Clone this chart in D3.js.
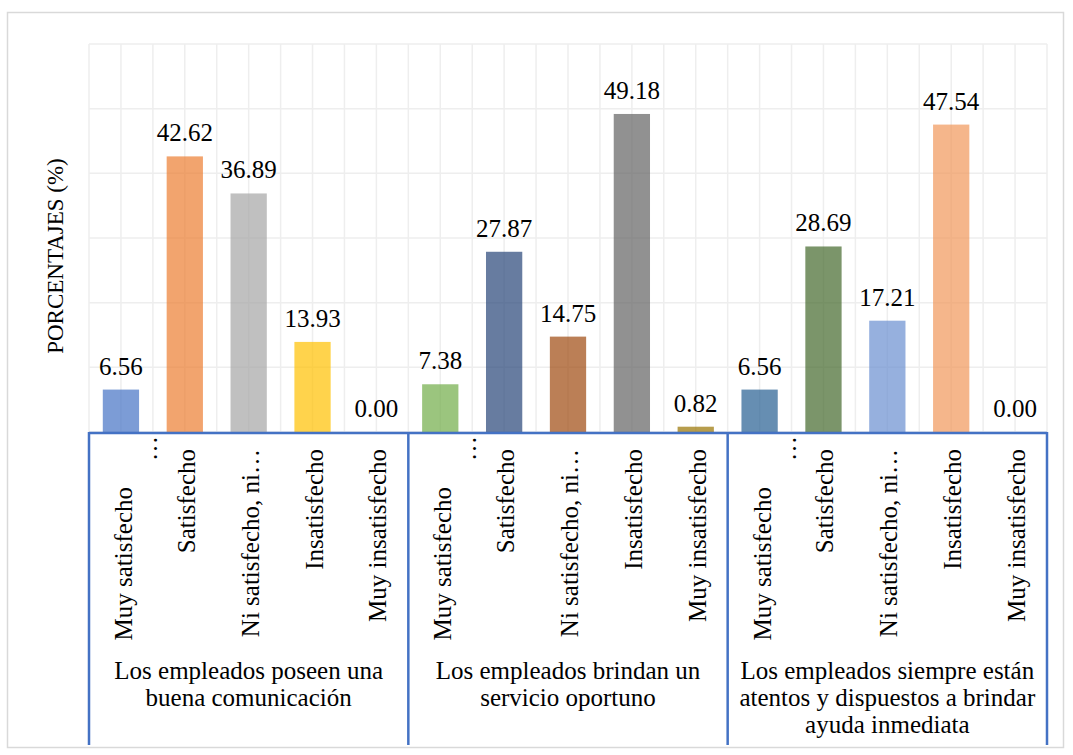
<!DOCTYPE html>
<html>
<head>
<meta charset="utf-8">
<script src="https://cdn.jsdelivr.net/npm/d3@7"></script>
<style>
  html, body { margin: 0; padding: 0; background: #fff; }
  svg { display: block; }
</style>
</head>
<body>
<svg id="chart" width="1073" height="755"></svg>
<script>
// ---- Data ----
const groups = [
  ["Los empleados poseen una", "buena comunicación"],
  ["Los empleados brindan un", "servicio oportuno"],
  ["Los empleados siempre están", "atentos y dispuestos a brindar", "ayuda inmediata"]
];
const categories = ["Muy satisfecho", "Satisfecho", "Ni satisfecho, ni…", "Insatisfecho", "Muy insatisfecho"];
const valuesGroup1 = [6.56, 42.62, 36.89, 13.93, 0.00];
const valuesGroup2 = [7.38, 27.87, 14.75, 49.18, 0.82];
const valuesGroup3 = [6.56, 28.69, 17.21, 47.54, 0.00];
const yTicks = [0, 10, 20, 30, 40, 50, 60];
const yTitle = "PORCENTAJES (%)";

// colours (style, not data)
const palette = [
  ["#4472C4", "#ED7D31", "#A5A5A5", "#FFC000", "#5B9BD5"],
  ["#70AD47", "#264478", "#9E480E", "#636363", "#997300"],
  ["#255E91", "#43682B", "#698ED0", "#F1975A", "#B7B7B7"]
];

const allValues = [valuesGroup1, valuesGroup2, valuesGroup3];
const rows = [];
allValues.forEach((vals, g) => vals.forEach((v, i) => rows.push({ key: g + "-" + i, g, i, cat: categories[i], v })));

(function () {
  const FONT = '"Liberation Serif"';
  const svg = d3.select("#chart");
  const pLeft = 89, pRight = 1047, pTop = 44, pBottom = 432;
  const x = d3.scaleBand().domain(rows.map(d => d.key)).range([pLeft, pRight]).paddingInner(0.432).paddingOuter(0.216);
  const y = d3.scaleLinear().domain([0, 60]).range([pBottom, pTop]);
  const step = x.step();
  const styleText = sel => sel.style("font-family", FONT).style("font-size", "25px").style("fill", "#000");

  // outer border
  svg.append("rect").attr("x", 7.5).attr("y", 12.5).attr("width", 1056).attr("height", 735)
    .attr("fill", "none").attr("stroke", "#d9d9d9").attr("stroke-width", 1.5);

  // gridlines
  const grid = svg.append("g");
  grid.selectAll("line.h").data(yTicks).join("line").attr("class", "h")
    .attr("x1", pLeft).attr("x2", pRight).attr("y1", d => y(d)).attr("y2", d => y(d))
    .attr("stroke", "#eeeeee").attr("stroke-width", 1.5);
  const vLines = d3.range(0, rows.length * 2 + 1).map(k => pLeft + k * step / 2);
  grid.selectAll("line.v").data(vLines).join("line").attr("class", "v")
    .attr("x1", d => d).attr("x2", d => d).attr("y1", pTop).attr("y2", pBottom)
    .attr("stroke", "#eeeeee").attr("stroke-width", 1.5);

  // bars
  svg.append("g").selectAll("rect").data(rows).join("rect")
    .attr("x", d => x(d.key)).attr("width", x.bandwidth())
    .attr("y", d => y(d.v)).attr("height", d => y(0) - y(d.v))
    .attr("fill", d => palette[d.g][d.i]).attr("fill-opacity", 0.7);

  // value labels
  svg.append("g").selectAll("text").data(rows).join("text")
    .attr("x", d => x(d.key) + x.bandwidth() / 2).attr("y", d => y(d.v) - 15)
    .attr("text-anchor", "middle").call(styleText)
    .text(d => d.v.toFixed(2));

  // axis line and group dividers
  const axisColor = "#4472C4";
  svg.append("line").attr("x1", pLeft).attr("x2", pRight).attr("y1", pBottom + 1).attr("y2", pBottom + 1)
    .attr("stroke", axisColor).attr("stroke-width", 2.5);
  const groupW = (pRight - pLeft) / groups.length;
  svg.append("g").selectAll("line").data(d3.range(groups.length + 1)).join("line")
    .attr("x1", d => pLeft + d * groupW).attr("x2", d => pLeft + d * groupW)
    .attr("y1", pBottom).attr("y2", 745)
    .attr("stroke", axisColor).attr("stroke-width", 2.5);

  // rotated category labels
  const catG = svg.append("g");
  rows.forEach(d => {
    const cx = x(d.key) + x.bandwidth() / 2;
    if (d.i === 0) {
      catG.append("text").attr("transform", `translate(${cx + 11},487) rotate(-90)`)
        .attr("text-anchor", "end").call(styleText).text(d.cat);
      catG.append("text").attr("transform", `translate(${cx + 36},436) rotate(-90)`)
        .attr("text-anchor", "end").call(styleText).text("…");
    } else {
      catG.append("text").attr("transform", `translate(${cx + 10},449) rotate(-90)`)
        .attr("text-anchor", "end").call(styleText).text(d.cat);
    }
  });

  // group labels
  groups.forEach((lines, g) => {
    const t = svg.append("text").attr("text-anchor", "middle").call(styleText);
    lines.forEach((ln, j) => {
      t.append("tspan").attr("x", pLeft + g * groupW + groupW / 2).attr("y", 679 + j * 26.8).text(ln);
    });
  });

  // y-axis title
  svg.append("text").attr("transform", "translate(63,256) rotate(-90)")
    .attr("text-anchor", "middle").call(styleText).style("font-size", "23px").text(yTitle);
})();
</script>
</body>
</html>
